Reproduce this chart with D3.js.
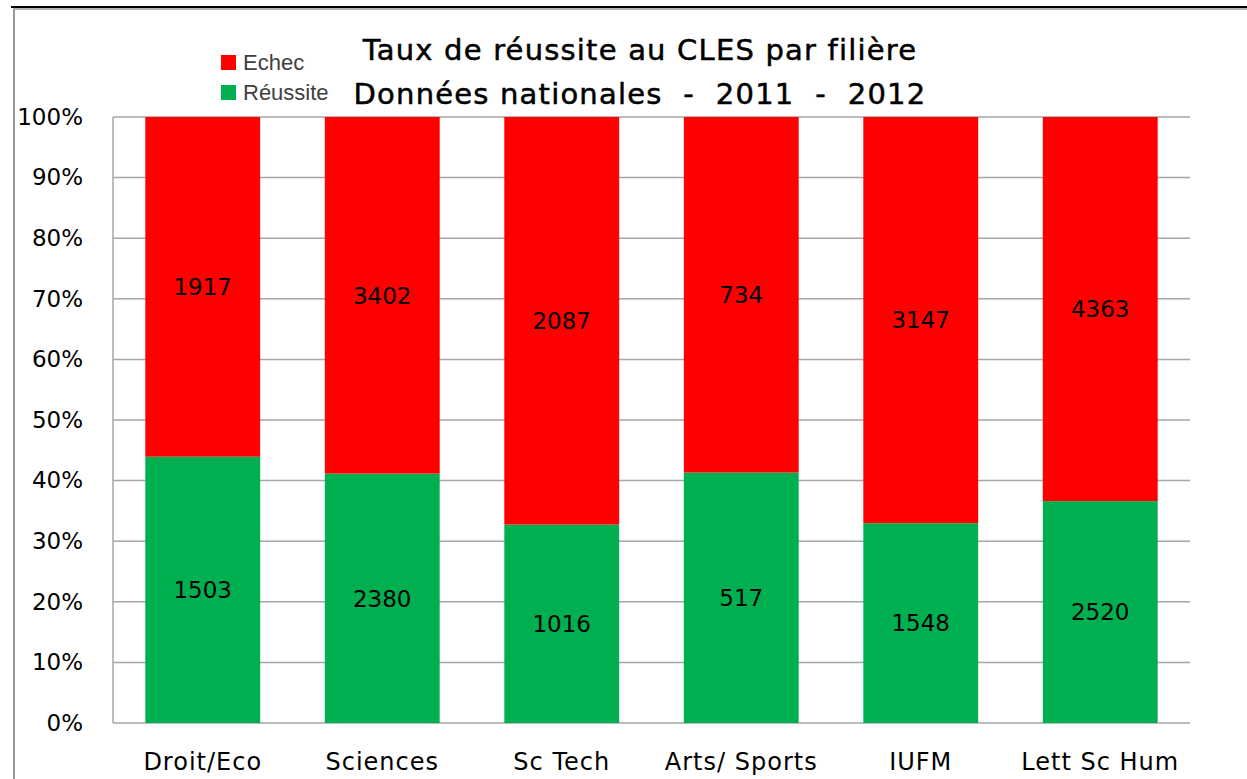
<!DOCTYPE html>
<html>
<head>
<meta charset="utf-8">
<script src="https://cdn.jsdelivr.net/npm/d3@7"></script>
<style>
  body { margin: 0; background: #fff; }
  svg { display: block; }
  text { font-family: "DejaVu Sans", sans-serif; }
</style>
</head>
<body>
<svg width="1247" height="779"></svg>
<script>
// données
const filieres = ["Droit/Eco", "Sciences", "Sc Tech", "Arts/ Sports", "IUFM", "Lett Sc Hum"];
const reussite = [1503, 2380, 1016, 517, 1548, 2520];
const echec = [1917, 3402, 2087, 734, 3147, 4363];
const yTicks = [0, 0.1, 0.2, 0.3, 0.4, 0.5, 0.6, 0.7, 0.8, 0.9, 1];
const titre = ["Taux de réussite au CLES par filière", "Données nationales  -  2011  -  2012"];

const svg = d3.select("svg"),
    margin = {top: 117, right: 57, bottom: 56, left: 113},
    width = +svg.attr("width") - margin.left - margin.right,
    height = +svg.attr("height") - margin.top - margin.bottom;

// cadre
svg.append("line").attr("x1", 11).attr("x2", 1247).attr("y1", 7).attr("y2", 7)
    .attr("stroke", "#000").attr("stroke-width", 2);
svg.append("line").attr("x1", 13).attr("x2", 1247).attr("y1", 9).attr("y2", 9)
    .attr("stroke", "#999").attr("stroke-width", 1.5);
svg.append("line").attr("x1", 14).attr("x2", 14).attr("y1", 9).attr("y2", 779)
    .attr("stroke", "#999").attr("stroke-width", 2);

const g = svg.append("g").attr("transform", "translate(" + margin.left + "," + margin.top + ")");

const x = d3.scaleBand().domain(filieres).range([0, width]).paddingInner(0.36).paddingOuter(0.18);
const y = d3.scaleLinear().domain([0, 1]).range([height, 0]);

const rows = filieres.map(function(f, i) {
    return {filiere: f, reussite: reussite[i], echec: echec[i]};
});
const series = d3.stack().keys(["reussite", "echec"]).offset(d3.stackOffsetExpand)(rows);
const colors = {reussite: "#00B050", echec: "#FF0000"};

// grille
g.append("g")
    .selectAll("line")
    .data(yTicks)
    .join("line")
    .attr("x1", 0).attr("x2", width)
    .attr("y1", d => y(d)).attr("y2", d => y(d))
    .attr("stroke", "#a6a6a6").attr("stroke-width", 1.5);

// axe y
const yAxis = g.append("g")
    .call(d3.axisLeft(y).tickValues(yTicks).tickFormat(d3.format(".0%")).tickSize(0).tickPadding(30));
yAxis.select(".domain").remove();
yAxis.selectAll("text").attr("font-size", 23).attr("fill", "#000")
    .style("font-family", "'DejaVu Sans', sans-serif");
g.append("line").attr("x1", 0).attr("x2", 0).attr("y1", 0).attr("y2", height)
    .attr("stroke", "#a6a6a6").attr("stroke-width", 1.5);

// axe x
const xAxis = g.append("g")
    .attr("transform", "translate(0," + height + ")")
    .call(d3.axisBottom(x).tickSize(0).tickPadding(30));
xAxis.select(".domain").remove();
xAxis.selectAll("text").attr("font-size", 24).attr("fill", "#000")
    .attr("letter-spacing", 1)
    .style("font-family", "'DejaVu Sans', sans-serif");

// barres
const layer = g.selectAll("g.serie")
    .data(series)
    .join("g")
    .attr("class", "serie")
    .attr("fill", d => colors[d.key]);

layer.selectAll("rect")
    .data(d => d)
    .join("rect")
    .attr("x", d => x(d.data.filiere))
    .attr("width", x.bandwidth())
    .attr("y", d => y(d[1]))
    .attr("height", d => y(d[0]) - y(d[1]));

// étiquettes
layer.selectAll("text")
    .data(d => d.map(v => ({v: v, key: d.key})))
    .join("text")
    .attr("x", d => x(d.v.data.filiere) + x.bandwidth() / 2)
    .attr("y", d => (y(d.v[0]) + y(d.v[1])) / 2)
    .attr("dy", "0.36em")
    .attr("text-anchor", "middle")
    .attr("font-size", 23)
    .attr("fill", "#000")
    .text(d => d.v.data[d.key]);

// titre
svg.append("g")
    .selectAll("text")
    .data(titre)
    .join("text")
    .attr("x", 640)
    .attr("y", (d, i) => 60 + i * 44)
    .attr("text-anchor", "middle")
    .attr("font-size", 29)
    .attr("letter-spacing", 1.2)
    .attr("fill", "#000")
    .attr("stroke", "#000")
    .attr("stroke-width", 0.5)
    .style("white-space", "pre")
    .text(d => d);

// légende
const legende = [{key: "echec", label: "Echec"}, {key: "reussite", label: "Réussite"}];
const leg = svg.append("g").attr("transform", "translate(221,55)");
leg.selectAll("rect")
    .data(legende)
    .join("rect")
    .attr("x", 0).attr("y", (d, i) => i * 30)
    .attr("width", 15).attr("height", 15)
    .attr("fill", d => colors[d.key]);
leg.selectAll("text")
    .data(legende)
    .join("text")
    .attr("x", 22).attr("y", (d, i) => i * 30 + 15)
    .attr("font-size", 22)
    .attr("fill", "#404040")
    .style("font-family", "'Liberation Sans', sans-serif")
    .text(d => d.label);
</script>
</body>
</html>
